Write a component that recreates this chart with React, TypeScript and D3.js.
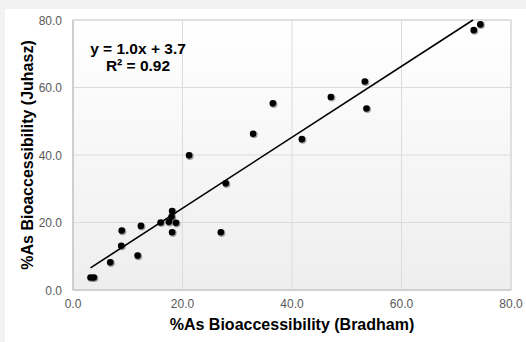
import React from "react";
import * as d3 from "d3";

const bradham = [3.2, 3.8, 6.8, 8.9, 8.8, 11.8, 12.4, 16.0, 17.5, 18.1, 18.0, 18.8, 18.1, 21.2, 27.9, 27.0, 32.9, 36.5, 41.8, 47.1, 53.6, 53.3, 73.2, 74.4];
const juhasz = [3.7, 3.7, 8.2, 17.6, 13.1, 10.2, 19.0, 20.0, 20.2, 23.4, 21.7, 19.9, 17.1, 39.9, 31.6, 17.1, 46.3, 55.3, 44.7, 57.2, 53.8, 61.8, 77.0, 78.7];
const xTicks = [0, 20, 40, 60, 80];
const yTicks = [0, 20, 40, 60, 80];
const equationLines = ["y = 1.0x + 3.7", "R² = 0.92"];
const xTitle = "%As Bioaccessibility (Bradham)";
const yTitle = "%As Bioaccessibility (Juhasz)";

const W = 526, H = 342;
const L = 73, R = 511, T = 20, B = 290;
const FONT = "'Liberation Sans', Arial, sans-serif";

export default function App() {
  const x = d3.scaleLinear().domain([0, 80]).range([L, R]);
  const y = d3.scaleLinear().domain([0, 80]).range([B, T]);
  const pts = bradham.map((b, i) => [b, juhasz[i]] as [number, number]);
  // least squares fit
  const mx = d3.mean(bradham)!, my = d3.mean(juhasz)!;
  const sxy = d3.sum(pts, p => (p[0] - mx) * (p[1] - my));
  const sxx = d3.sum(pts, p => (p[0] - mx) ** 2);
  const slope = sxy / sxx;
  const icpt = my - slope * mx;
  const x0 = d3.min(bradham)!;
  let x1 = d3.max(bradham)!;
  if (slope * x1 + icpt > 80) x1 = (80 - icpt) / slope;
  const line = d3.line<[number, number]>().x(d => x(d[0])).y(d => y(d[1]));
  return (
    <div style={{ position: "fixed", left: 0, top: 0 }}>
      <svg width={W} height={H} style={{ display: "block" }}>
        <defs>
          <linearGradient id="pg" x1="0" y1="0" x2="0" y2="1">
            <stop offset="0" stopColor="#ffffff" />
            <stop offset="1" stopColor="#eeeeee" />
          </linearGradient>
          <filter id="sh" x="-1" y="-1" width="3" height="3">
            <feGaussianBlur stdDeviation="0.6" />
          </filter>
        </defs>
        <rect x={0} y={0} width={W} height={H} fill="#f2f2f2" />
        <rect x={5} y={9} width={W - 5} height={H - 9} fill="#ffffff" />
        <rect x={L} y={T} width={R - L} height={B - T} fill="url(#pg)" />
        {xTicks.map(t => (
          <line key={"gx" + t} x1={x(t)} x2={x(t)} y1={T} y2={B} stroke="#dcdcdc" strokeWidth={1} />
        ))}
        {yTicks.map(t => (
          <line key={"gy" + t} x1={L} x2={R} y1={y(t)} y2={y(t)} stroke="#dcdcdc" strokeWidth={1} />
        ))}
        <rect x={L} y={T} width={R - L} height={B - T} fill="none" stroke="#d4d4d4" strokeWidth={1} />
        <line x1={L} x2={R} y1={B} y2={B} stroke="#c4c4c4" strokeWidth={1.2} />
        <line x1={L} x2={L} y1={T} y2={B} stroke="#c4c4c4" strokeWidth={1.2} />
        {yTicks.map(t => (
          <text key={"ty" + t} x={L - 11} y={y(t) + 4.5} textAnchor="end" fontFamily={FONT} fontSize={12} fill="#595959">
            {t.toFixed(1)}
          </text>
        ))}
        {xTicks.map(t => (
          <text key={"tx" + t} x={x(t)} y={308} textAnchor="middle" fontFamily={FONT} fontSize={12} fill="#595959">
            {t.toFixed(1)}
          </text>
        ))}
        <text x={(L + R) / 2} y={330} textAnchor="middle" fontFamily={FONT} fontSize={16} fontWeight="bold" fill="#000">
          {xTitle}
        </text>
        <text transform={`translate(33,${(T + B) / 2}) rotate(-90)`} textAnchor="middle" fontFamily={FONT} fontSize={16} fontWeight="bold" fill="#000">
          {yTitle}
        </text>
        {equationLines.map((s, i) => (
          <text key={"eq" + i} x={138} y={53.5 + i * 17.5} textAnchor="middle" fontFamily={FONT} fontSize={15.5} fontWeight="bold" fill="#000">
            {s}
          </text>
        ))}
        {pts.map((p, i) => (
          <circle key={"s" + i} cx={x(p[0]) + 0.8} cy={y(p[1]) + 0.8} r={3.8} fill="#000" opacity={0.35} filter="url(#sh)" />
        ))}
        {pts.map((p, i) => (
          <circle key={"p" + i} cx={x(p[0])} cy={y(p[1])} r={3.3} fill="#000" />
        ))}
        <path d={line([[x0, slope * x0 + icpt], [x1, slope * x1 + icpt]])!} stroke="#000" strokeWidth={1.6} fill="none" />
      </svg>
    </div>
  );
}
